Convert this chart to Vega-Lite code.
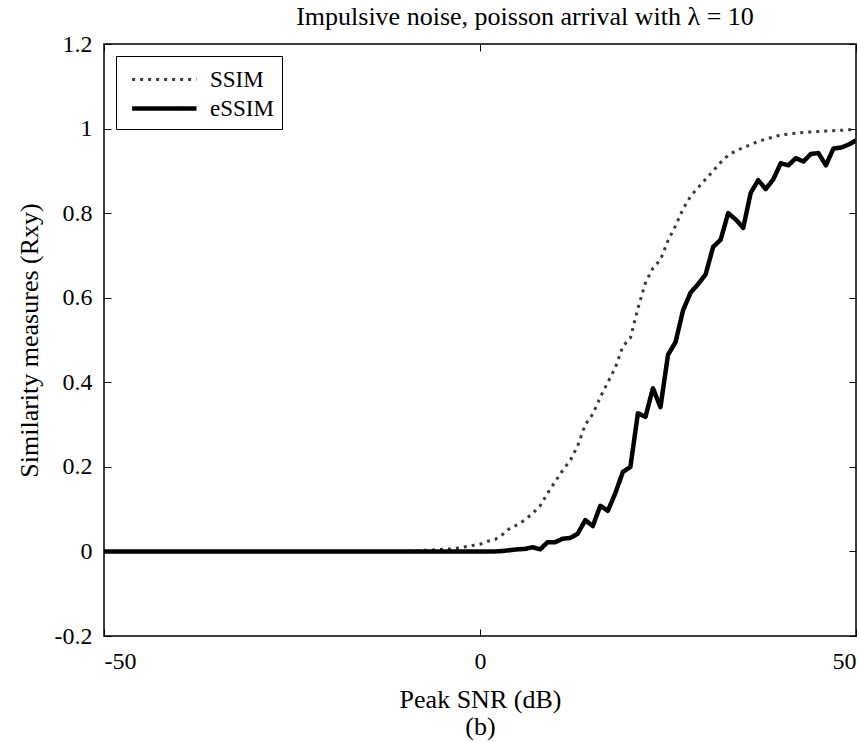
{
  "$schema": "https://vega.github.io/schema/vega-lite/v6.json",
  "width": 752,
  "height": 592,
  "autosize": "none",
  "padding": {"left": 104, "top": 44, "right": 3, "bottom": 106},
  "background": "white",
  "config": {
    "font": "Liberation Serif, Times New Roman, DejaVu Serif, serif",
    "view": {"stroke": "black", "strokeWidth": 1.5},
    "axis": {
      "domain": false,
      "grid": false,
      "ticks": true,
      "tickSize": -7,
      "tickColor": "black",
      "tickWidth": 1,
      "labelFont": "Liberation Serif, Times New Roman, DejaVu Serif, serif",
      "labelFontSize": 24,
      "labelColor": "black",
      "titleFont": "Liberation Serif, Times New Roman, DejaVu Serif, serif",
      "titleFontSize": 26,
      "titleFontWeight": "normal",
      "titleColor": "black"
    }
  },
  "title": {
    "text": "Impulsive noise, poisson arrival with λ = 10",
    "font": "Liberation Serif, Times New Roman, DejaVu Serif, serif",
    "fontSize": 26,
    "fontWeight": "normal",
    "color": "black",
    "anchor": "middle",
    "dx": 45,
    "offset": 2
  },
  "data": {
    "values": [
      {"snr": -50, "v": 0, "s": "SSIM"}, {"snr": -45, "v": 0, "s": "SSIM"}, {"snr": -40, "v": 0, "s": "SSIM"},
      {"snr": -35, "v": 0, "s": "SSIM"}, {"snr": -30, "v": 0, "s": "SSIM"}, {"snr": -25, "v": 0, "s": "SSIM"},
      {"snr": -20, "v": 0, "s": "SSIM"}, {"snr": -15, "v": 0, "s": "SSIM"}, {"snr": -10, "v": 0, "s": "SSIM"},
      {"snr": -9, "v": 0.001, "s": "SSIM"}, {"snr": -8, "v": 0.002, "s": "SSIM"}, {"snr": -7, "v": 0.003, "s": "SSIM"},
      {"snr": -6, "v": 0.004, "s": "SSIM"}, {"snr": -5, "v": 0.005, "s": "SSIM"}, {"snr": -4, "v": 0.006, "s": "SSIM"},
      {"snr": -3, "v": 0.008, "s": "SSIM"}, {"snr": -2, "v": 0.011, "s": "SSIM"}, {"snr": -1, "v": 0.014, "s": "SSIM"},
      {"snr": 0, "v": 0.017, "s": "SSIM"}, {"snr": 1, "v": 0.024, "s": "SSIM"}, {"snr": 2, "v": 0.028, "s": "SSIM"},
      {"snr": 3, "v": 0.04, "s": "SSIM"}, {"snr": 4, "v": 0.055, "s": "SSIM"}, {"snr": 5, "v": 0.063, "s": "SSIM"},
      {"snr": 6, "v": 0.075, "s": "SSIM"}, {"snr": 7, "v": 0.09, "s": "SSIM"}, {"snr": 8, "v": 0.108, "s": "SSIM"},
      {"snr": 9, "v": 0.138, "s": "SSIM"}, {"snr": 10, "v": 0.165, "s": "SSIM"}, {"snr": 11, "v": 0.192, "s": "SSIM"},
      {"snr": 12, "v": 0.215, "s": "SSIM"}, {"snr": 13, "v": 0.25, "s": "SSIM"}, {"snr": 14, "v": 0.3, "s": "SSIM"},
      {"snr": 15, "v": 0.325, "s": "SSIM"}, {"snr": 16, "v": 0.365, "s": "SSIM"}, {"snr": 17, "v": 0.4, "s": "SSIM"},
      {"snr": 18, "v": 0.435, "s": "SSIM"}, {"snr": 19, "v": 0.485, "s": "SSIM"}, {"snr": 20, "v": 0.505, "s": "SSIM"},
      {"snr": 21, "v": 0.575, "s": "SSIM"}, {"snr": 22, "v": 0.635, "s": "SSIM"}, {"snr": 23, "v": 0.67, "s": "SSIM"},
      {"snr": 24, "v": 0.69, "s": "SSIM"}, {"snr": 25, "v": 0.735, "s": "SSIM"}, {"snr": 26, "v": 0.77, "s": "SSIM"},
      {"snr": 27, "v": 0.81, "s": "SSIM"}, {"snr": 28, "v": 0.84, "s": "SSIM"}, {"snr": 29, "v": 0.86, "s": "SSIM"},
      {"snr": 30, "v": 0.88, "s": "SSIM"}, {"snr": 31, "v": 0.9, "s": "SSIM"}, {"snr": 32, "v": 0.92, "s": "SSIM"},
      {"snr": 33, "v": 0.937, "s": "SSIM"}, {"snr": 34, "v": 0.947, "s": "SSIM"}, {"snr": 35, "v": 0.955, "s": "SSIM"},
      {"snr": 36, "v": 0.962, "s": "SSIM"}, {"snr": 37, "v": 0.97, "s": "SSIM"}, {"snr": 38, "v": 0.975, "s": "SSIM"},
      {"snr": 39, "v": 0.98, "s": "SSIM"}, {"snr": 40, "v": 0.985, "s": "SSIM"}, {"snr": 41, "v": 0.987, "s": "SSIM"},
      {"snr": 42, "v": 0.989, "s": "SSIM"}, {"snr": 43, "v": 0.991, "s": "SSIM"}, {"snr": 44, "v": 0.992, "s": "SSIM"},
      {"snr": 45, "v": 0.993, "s": "SSIM"}, {"snr": 46, "v": 0.994, "s": "SSIM"}, {"snr": 47, "v": 0.995, "s": "SSIM"},
      {"snr": 48, "v": 0.996, "s": "SSIM"}, {"snr": 49, "v": 0.997, "s": "SSIM"}, {"snr": 50, "v": 0.998, "s": "SSIM"},

      {"snr": -50, "v": 0, "s": "eSSIM"}, {"snr": -45, "v": 0, "s": "eSSIM"}, {"snr": -40, "v": 0, "s": "eSSIM"},
      {"snr": -35, "v": 0, "s": "eSSIM"}, {"snr": -30, "v": 0, "s": "eSSIM"}, {"snr": -25, "v": 0, "s": "eSSIM"},
      {"snr": -20, "v": 0, "s": "eSSIM"}, {"snr": -15, "v": 0, "s": "eSSIM"}, {"snr": -10, "v": 0, "s": "eSSIM"},
      {"snr": -5, "v": 0, "s": "eSSIM"}, {"snr": 0, "v": 0, "s": "eSSIM"}, {"snr": 2, "v": 0, "s": "eSSIM"},
      {"snr": 3, "v": 0.001, "s": "eSSIM"}, {"snr": 4, "v": 0.003, "s": "eSSIM"}, {"snr": 5, "v": 0.005, "s": "eSSIM"},
      {"snr": 6, "v": 0.006, "s": "eSSIM"}, {"snr": 7, "v": 0.01, "s": "eSSIM"}, {"snr": 8, "v": 0.005, "s": "eSSIM"},
      {"snr": 9, "v": 0.022, "s": "eSSIM"}, {"snr": 10, "v": 0.022, "s": "eSSIM"}, {"snr": 11, "v": 0.03, "s": "eSSIM"},
      {"snr": 12, "v": 0.032, "s": "eSSIM"}, {"snr": 13, "v": 0.042, "s": "eSSIM"}, {"snr": 14, "v": 0.074, "s": "eSSIM"},
      {"snr": 15, "v": 0.06, "s": "eSSIM"}, {"snr": 16, "v": 0.108, "s": "eSSIM"}, {"snr": 17, "v": 0.096, "s": "eSSIM"},
      {"snr": 18, "v": 0.138, "s": "eSSIM"}, {"snr": 19, "v": 0.188, "s": "eSSIM"}, {"snr": 20, "v": 0.2, "s": "eSSIM"},
      {"snr": 21, "v": 0.327, "s": "eSSIM"}, {"snr": 22, "v": 0.318, "s": "eSSIM"}, {"snr": 23, "v": 0.386, "s": "eSSIM"},
      {"snr": 24, "v": 0.341, "s": "eSSIM"}, {"snr": 25, "v": 0.465, "s": "eSSIM"}, {"snr": 26, "v": 0.495, "s": "eSSIM"},
      {"snr": 27, "v": 0.57, "s": "eSSIM"}, {"snr": 28, "v": 0.612, "s": "eSSIM"}, {"snr": 29, "v": 0.632, "s": "eSSIM"},
      {"snr": 30, "v": 0.655, "s": "eSSIM"}, {"snr": 31, "v": 0.72, "s": "eSSIM"}, {"snr": 32, "v": 0.737, "s": "eSSIM"},
      {"snr": 33, "v": 0.8, "s": "eSSIM"}, {"snr": 34, "v": 0.785, "s": "eSSIM"}, {"snr": 35, "v": 0.765, "s": "eSSIM"},
      {"snr": 36, "v": 0.848, "s": "eSSIM"}, {"snr": 37, "v": 0.878, "s": "eSSIM"}, {"snr": 38, "v": 0.857, "s": "eSSIM"},
      {"snr": 39, "v": 0.88, "s": "eSSIM"}, {"snr": 40, "v": 0.918, "s": "eSSIM"}, {"snr": 41, "v": 0.913, "s": "eSSIM"},
      {"snr": 42, "v": 0.93, "s": "eSSIM"}, {"snr": 43, "v": 0.922, "s": "eSSIM"}, {"snr": 44, "v": 0.94, "s": "eSSIM"},
      {"snr": 45, "v": 0.942, "s": "eSSIM"}, {"snr": 46, "v": 0.913, "s": "eSSIM"}, {"snr": 47, "v": 0.953, "s": "eSSIM"},
      {"snr": 48, "v": 0.955, "s": "eSSIM"}, {"snr": 49, "v": 0.962, "s": "eSSIM"}, {"snr": 50, "v": 0.972, "s": "eSSIM"}
    ]
  },
  "layer": [
    {
      "mark": {"type": "line", "strokeCap": "butt", "strokeJoin": "round", "clip": true},
      "encoding": {
        "x": {
          "field": "snr", "type": "quantitative",
          "scale": {"domain": [-50, 50], "nice": false, "zero": false},
          "axis": {"values": [-50, 0, 50], "labelExpr": "replace(datum.label, '\u2212', '-')", "title": ["Peak SNR (dB)", "(b)"], "titleLineHeight": 27, "titlePadding": 13, "labelPadding": 20, "labelFlush": true}
        },
        "y": {
          "field": "v", "type": "quantitative",
          "scale": {"domain": [-0.2, 1.2], "nice": false, "zero": false},
          "axis": {"values": [-0.2, 0, 0.2, 0.4, 0.6, 0.8, 1, 1.2], "format": "~g", "labelExpr": "replace(datum.label, '\u2212', '-')", "title": "Similarity measures (Rxy)", "titlePadding": 12, "labelPadding": 19}
        },
        "color": {
          "field": "s", "type": "nominal",
          "scale": {"domain": ["SSIM", "eSSIM"], "range": ["#3a3a3a", "black"]},
          "legend": {
            "title": null, "orient": "top-left", "offset": 12,
            "strokeColor": "black", "fillColor": "white", "padding": 8,
            "symbolType": "M-0.6,0H4", "symbolSize": 784,
            "labelFontSize": 23, "labelFont": "Liberation Serif, Times New Roman, DejaVu Serif, serif", "labelColor": "black",
            "rowPadding": -5, "labelOffset": 53
          }
        },
        "strokeDash": {
          "field": "s", "type": "nominal",
          "scale": {"domain": ["SSIM", "eSSIM"], "range": [[3, 5], [1, 0]]},
          "legend": {
            "title": null, "orient": "top-left", "offset": 12,
            "strokeColor": "black", "fillColor": "white", "padding": 8,
            "symbolType": "M-0.6,0H4", "symbolSize": 784,
            "labelFontSize": 23, "labelFont": "Liberation Serif, Times New Roman, DejaVu Serif, serif", "labelColor": "black",
            "rowPadding": -5, "labelOffset": 53
          }
        },
        "strokeWidth": {
          "field": "s", "type": "nominal",
          "scale": {"domain": ["SSIM", "eSSIM"], "range": [3, 4.5]},
          "legend": {
            "title": null, "orient": "top-left", "offset": 12,
            "strokeColor": "black", "fillColor": "white", "padding": 8,
            "symbolType": "M-0.6,0H4", "symbolSize": 784,
            "labelFontSize": 23, "labelFont": "Liberation Serif, Times New Roman, DejaVu Serif, serif", "labelColor": "black",
            "rowPadding": -5, "labelOffset": 53
          }
        }
      }
    },
    {
      "mark": {"type": "line", "opacity": 0},
      "encoding": {
        "x": {"field": "snr", "type": "quantitative", "axis": {"orient": "top", "values": [-50, 0, 50], "labels": false, "title": null}},
        "y": {"field": "v", "type": "quantitative", "axis": {"orient": "right", "values": [-0.2, 0, 0.2, 0.4, 0.6, 0.8, 1, 1.2], "labels": false, "title": null}}
      }
    }
  ],
  "resolve": {"axis": {"x": "independent", "y": "independent"}}
}
